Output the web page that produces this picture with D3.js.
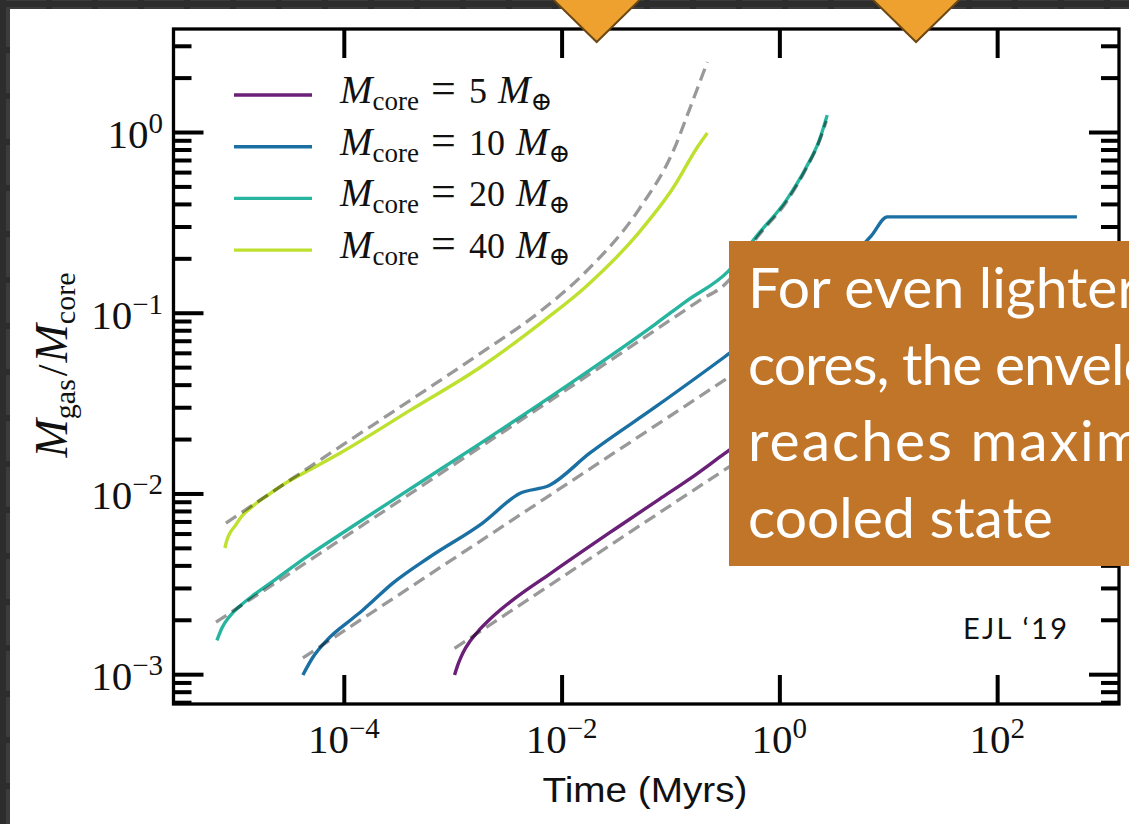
<!DOCTYPE html>
<html>
<head>
<meta charset="utf-8">
<script src="https://cdn.jsdelivr.net/npm/d3@7"></script>
<style>
  html, body { margin: 0; padding: 0; background: #2e2e2e; overflow: hidden; }
  svg { display: block; }
  text { white-space: pre; }
</style>
</head>
<body>
<svg id="canvas" width="1129" height="824"></svg>
<script>
// values: [time (Myr), Mgas/Mcore]
const core5 = [[1.04e-3, 9.9e-4], [1.13e-3, 1.15e-3], [1.24e-3, 1.31e-3], [1.43e-3, 1.51e-3],
  [1.66e-3, 1.69e-3], [2.54e-3, 2.18e-3], [3.86e-3, 2.67e-3], [7.76e-3, 3.58e-3], [1.56e-2, 4.80e-3],
  [3.2e-2, 6.44e-3], [7.93e-2, 9.31e-3], [0.149, 1.20e-2], [0.30, 1.63e-2], [1.52, 3.29e-2],
  [4.38, 5.14e-2], [8.3, 0.061], [540, 0.061]];
const core10 = [[4.21e-5, 9.9e-4], [5.2e-5, 1.24e-3], [6.98e-5, 1.54e-3], [1.21e-4, 2.04e-3],
  [1.49e-4, 2.26e-3], [2.82e-4, 3.19e-3], [6.15e-4, 4.45e-3], [1.88e-3, 6.86e-3], [4.12e-3, 1.0e-2],
  [7.76e-3, 1.11e-2], [1.81e-2, 1.67e-2], [7.27e-2, 3.01e-2], [0.313, 5.69e-2], [1.52, 0.117],
  [6.98, 0.266], [9.8, 0.339], [540, 0.339]];
const core20 = [[6.84e-6, 1.54e-3], [7.6e-6, 1.80e-3], [9.0e-6, 2.10e-3], [1.11e-5, 2.38e-3],
  [1.52e-5, 2.77e-3], [2.38e-5, 3.36e-3], [4.38e-5, 4.39e-3], [1.14e-4, 6.44e-3], [2.82e-4, 9.19e-3],
  [1.81e-3, 1.9e-2], [1.14e-2, 3.98e-2], [7.27e-2, 8.66e-2], [0.137, 0.115], [0.34, 0.170],
  [0.628, 0.269], [1.16, 0.42], [1.77, 0.64], [2.33, 0.903], [2.75, 1.24]];
const core40 = [[8.09e-6, 4.99e-3], [8.45e-6, 5.52e-3], [9.0e-6, 6.04e-3], [1.0e-5, 6.6e-3],
  [1.16e-5, 7.5e-3], [1.46e-5, 8.51e-3], [2.01e-5, 9.8e-3], [3.06e-5, 1.16e-2], [5.42e-5, 1.40e-2],
  [9.19e-5, 1.67e-2], [4.12e-4, 2.9e-2], [1.81e-3, 5.01e-2], [6.98e-3, 9.11e-2], [1.66e-2, 0.139],
  [5.08e-2, 0.276], [0.107, 0.496], [0.177, 0.826], [0.218, 0.987]];

// analytic fits (dashed)
const fit5 = [[1.04e-3, 1.39e-3], [0.313, 1.35e-2], [3.2, 3.38e-2]];
const fit10 = [[4.21e-5, 1.23e-3], [0.313, 4.24e-2], [3.2, 0.107]];
const fit20 = [[6.7e-6, 1.94e-3], [0.177, 0.115], [0.34, 0.150], [0.628, 0.262], [1.16, 0.41],
  [1.77, 0.63], [2.33, 0.89], [2.7, 1.15]];
const fit40 = [[8.26e-6, 6.86e-3], [9.19e-5, 1.81e-2], [4.12e-4, 3.29e-2], [1.81e-3, 5.98e-2],
  [6.28e-3, 0.101], [1.66e-2, 0.168], [5.08e-2, 0.370], [0.107, 0.795], [0.152, 1.37], [0.218, 2.44]];

const coreMasses = [5, 10, 20, 40];
const coreCurves = [core5, core10, core20, core40];
const fitCurves = [fit5, fit10, fit20, fit40];
const colours = ["#6b2078", "#1b70a3", "#27b59f", "#bee02f"];

const xTicks = [1e-4, 1e-2, 1e0, 1e2];
const xTickExp = ["\u22124", "\u22122", "0", "2"];
const yTicks = [1e-3, 1e-2, 1e-1, 1e0];
const yTickExp = ["\u22123", "\u22122", "\u22121", "0"];

const noteLines = ["For even lighter", "cores, the envelope", "reaches maximally", "cooled state"];
const noteSpacing = [0, -1, 2, 0];
const markerTimes = [0.021, 18];

const svg = d3.select("#canvas");
const W = 1129, H = 824;
const pLeft = 173.5, pRight = 1119, pTop = 29, pBottom = 704;

// slide background
const defs = svg.append("defs");
const pat = defs.append("pattern").attr("id", "tiles")
  .attr("width", 46).attr("height", 46).attr("patternUnits", "userSpaceOnUse")
  .attr("x", 3).attr("y", 4);
pat.append("rect").attr("width", 46).attr("height", 46).attr("fill", "#2d2d2d");
pat.append("rect").attr("x", 3).attr("y", 3).attr("width", 40).attr("height", 40).attr("fill", "#3c3c3c");
svg.append("rect").attr("width", W).attr("height", H).attr("fill", "url(#tiles)");
svg.append("rect").attr("x", 10).attr("y", 9).attr("width", W).attr("height", H).attr("fill", "#fff");

const x = d3.scaleLog().domain([Math.pow(10, -5.564), Math.pow(10, 3.119)]).range([pLeft, pRight]);
const y = d3.scaleLog().domain([Math.pow(10, -3.165), Math.pow(10, 0.570)]).range([pBottom, pTop]);

const line = d3.line().x(d => x(d[0])).y(d => y(d[1])).curve(d3.curveMonotoneX);

defs.append("clipPath").attr("id", "plotclip").append("rect")
  .attr("x", pLeft).attr("y", pTop).attr("width", pRight - pLeft).attr("height", pBottom - pTop);

const plot = svg.append("g").attr("clip-path", "url(#plotclip)");
coreCurves.forEach((c, i) => {
  plot.append("path").datum(c).attr("d", line)
    .attr("fill", "none").attr("stroke", colours[i]).attr("stroke-width", 3.4);
});
fitCurves.forEach(c => {
  plot.append("path").datum(c).attr("d", line)
    .attr("fill", "none").attr("stroke", "#000").attr("stroke-opacity", 0.4)
    .attr("stroke-width", 3.3).attr("stroke-dasharray", "12.5,6.5");
});

// minor y ticks
const yMinor = [];
for (let e = -4; e <= 0; e++) {
  for (let k = 2; k <= 9; k++) {
    const v = k * Math.pow(10, e);
    if (v > y.domain()[0] && v < y.domain()[1]) yMinor.push(v);
  }
}

function styleAxis(g) {
  g.select(".domain").remove();
  g.selectAll(".tick line").attr("stroke", "#000").attr("stroke-width", 4);
}

svg.append("g").attr("transform", `translate(0,${pBottom})`)
  .call(d3.axisBottom(x).tickValues(xTicks).tickSizeInner(-29).tickSizeOuter(0).tickFormat(""))
  .call(styleAxis);
svg.append("g").attr("transform", `translate(0,${pTop})`)
  .call(d3.axisTop(x).tickValues(xTicks).tickSizeInner(-29).tickSizeOuter(0).tickFormat(""))
  .call(styleAxis);
svg.append("g").attr("transform", `translate(${pLeft},0)`)
  .call(d3.axisLeft(y).tickValues(yTicks).tickSizeInner(-30).tickSizeOuter(0).tickFormat(""))
  .call(styleAxis);
svg.append("g").attr("transform", `translate(${pLeft},0)`)
  .call(d3.axisLeft(y).tickValues(yMinor).tickSizeInner(-18).tickSizeOuter(0).tickFormat(""))
  .call(styleAxis);
svg.append("g").attr("transform", `translate(${pRight},0)`)
  .call(d3.axisRight(y).tickValues(yTicks).tickSizeInner(-30).tickSizeOuter(0).tickFormat(""))
  .call(styleAxis);
svg.append("g").attr("transform", `translate(${pRight},0)`)
  .call(d3.axisRight(y).tickValues(yMinor).tickSizeInner(-18).tickSizeOuter(0).tickFormat(""))
  .call(styleAxis);

svg.append("rect").attr("x", pLeft).attr("y", pTop)
  .attr("width", pRight - pLeft).attr("height", pBottom - pTop)
  .attr("fill", "none").attr("stroke", "#000").attr("stroke-width", 3.3);

const serif = "'Liberation Serif', 'DejaVu Serif', serif";

// tick labels
xTicks.forEach((v, i) => {
  const t = svg.append("text").attr("x", x(v)).attr("y", 753)
    .attr("text-anchor", "middle").attr("font-family", serif).attr("font-size", 41).attr("fill", "#111");
  t.append("tspan").text("10");
  t.append("tspan").attr("font-size", 29).attr("dy", -15).text(xTickExp[i]);
});
yTicks.forEach((v, i) => {
  const t = svg.append("text").attr("x", 163).attr("y", y(v) + 16)
    .attr("text-anchor", "end").attr("font-family", serif).attr("font-size", 41).attr("fill", "#111");
  t.append("tspan").text("10");
  t.append("tspan").attr("font-size", 29).attr("dy", -15).text(yTickExp[i]);
});

// axis titles
svg.append("text").attr("x", 645).attr("y", 802).attr("text-anchor", "middle")
  .attr("font-family", "'Liberation Sans', 'DejaVu Sans', sans-serif").attr("font-size", 35)
  .attr("fill", "#111").attr("textLength", 205).attr("lengthAdjust", "spacingAndGlyphs")
  .text("Time (Myrs)");

const yl = svg.append("text").attr("transform", "translate(67,365) rotate(-90)")
  .attr("text-anchor", "middle").attr("font-family", serif).attr("font-size", 42).attr("fill", "#111");
yl.append("tspan").attr("font-style", "italic").attr("font-size", 46).text("M");
yl.append("tspan").attr("font-size", 30).attr("dy", 8).text("gas");
yl.append("tspan").attr("dy", -8).attr("dx", 3).text("/");
yl.append("tspan").attr("font-style", "italic").attr("font-size", 46).attr("dx", 2).text("M");
yl.append("tspan").attr("font-size", 30).attr("dy", 8).text("core");

// legend
const legend = svg.append("g");
coreMasses.forEach((m, i) => {
  const ly = 95 + i * 51.7;
  legend.append("line").attr("x1", 234).attr("x2", 312).attr("y1", ly).attr("y2", ly)
    .attr("stroke", colours[i]).attr("stroke-width", 3.4);
  const t = legend.append("text").attr("x", 340).attr("y", ly + 8)
    .attr("font-family", serif).attr("font-size", 36).attr("fill", "#111");
  t.append("tspan").attr("font-style", "italic").attr("font-size", 39).text("M");
  t.append("tspan").attr("font-size", 27).attr("dy", 7).text("core");
  t.append("tspan").attr("x", 431).attr("dy", -7).attr("font-size", 44).text("=");
  t.append("tspan").attr("x", 469).text(m);
  t.append("tspan").attr("font-style", "italic").attr("font-size", 39).attr("dx", 11).text("M");
  t.append("tspan").attr("font-size", 26).attr("dy", 7).text("\u2295");
});

// slide decorations
markerTimes.forEach(tm => {
  const cx = x(tm);
  svg.append("path")
    .attr("d", `M${cx - 46},-3 L${cx + 46},-3 L${cx},42 Z`)
    .attr("fill", "#efa12f").attr("stroke", "#6b4712").attr("stroke-width", 2);
});

svg.append("rect").attr("x", 729).attr("y", 241).attr("width", 420).attr("height", 325)
  .attr("fill", "#c07529");

const note = svg.append("g").attr("font-family", "Lato, 'Open Sans', sans-serif")
  .attr("fill", "#fff").attr("font-size", 52);
const noteTexts = noteLines.map((s, i) =>
  note.append("text").attr("x", 748).attr("y", 308 + i * 76.5)
    .attr("letter-spacing", noteSpacing[i]).text(s));
// size from the last (fully visible) line
const lastLen = noteTexts[3].node().getComputedTextLength();
note.attr("font-size", 52 * 305 / lastLen);

svg.append("text").attr("x", 963).attr("y", 639)
  .attr("font-family", "Lato, 'Open Sans', sans-serif").attr("font-size", 29).attr("fill", "#111")
  .attr("textLength", 104).attr("lengthAdjust", "spacing")
  .text("EJL \u201819");
</script>
</body>
</html>
